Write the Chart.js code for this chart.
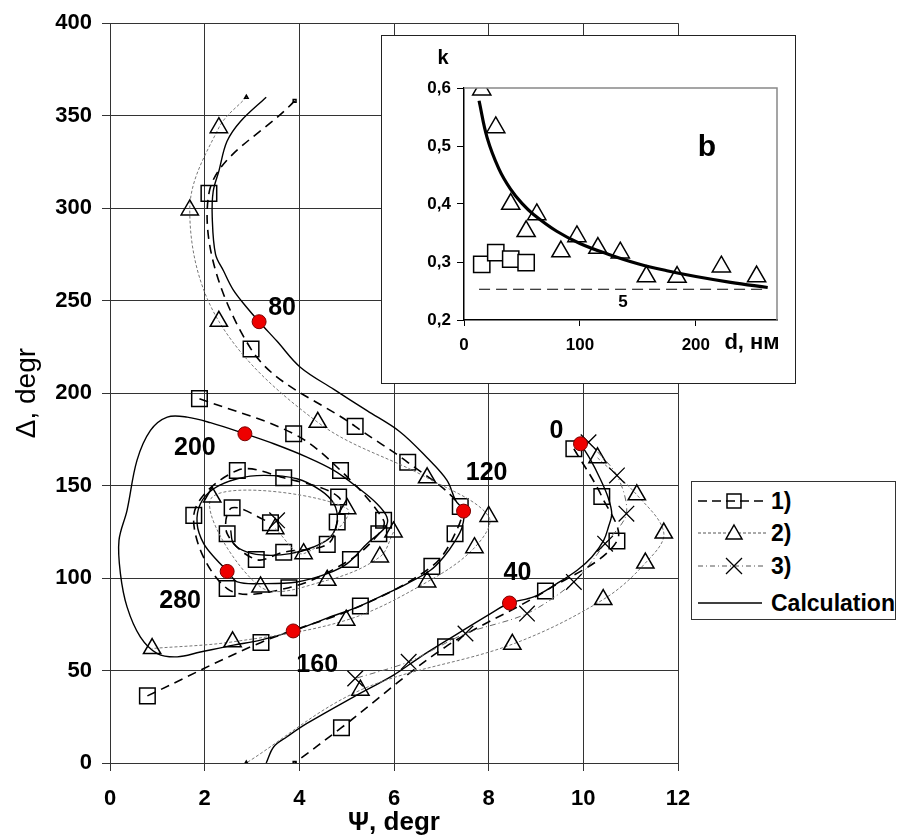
<!DOCTYPE html>
<html>
<head>
<meta charset="utf-8">
<script src="https://cdn.jsdelivr.net/npm/chart.js@4.4.0/dist/chart.umd.min.js"></script>
<style>
  body { margin: 0; background: #fff; }
  #wrap { position: relative; width: 899px; height: 838px; font-family: 'Liberation Sans', Arial, sans-serif; }
  #mainChart { position: absolute; left: 0; top: 0; }
  #insetBox { position: absolute; left: 381px; top: 35px; width: 413px; height: 347px; border: 1px solid #222; background: #fff; }
  #insetChart { position: absolute; left: 0; top: 0; }
  #legend { position: absolute; left: 691px; top: 481px; width: 203px; height: 137px; border: 1px solid #333; background: #fff; }
  .row { position: absolute; left: 0; width: 203px; height: 30px; }
  .row svg { position: absolute; left: 6px; top: 0; }
  .row span { position: absolute; left: 79px; top: 0; font-weight: bold; font-size: 23px; line-height: 30px; color: #000; }
</style>
</head>
<body>
<div id="wrap">
  <canvas id="mainChart" width="899" height="838"></canvas>
  <div id="insetBox"><canvas id="insetChart" width="413" height="347"></canvas></div>
  <div id="legend">
    <div class="row" style="top:4px">
      <svg width="72" height="30"><line x1="0" y1="15" x2="68" y2="15" stroke="#000" stroke-width="1.5" stroke-dasharray="9,5"/><rect x="29" y="8" width="14" height="14" fill="none" stroke="#000" stroke-width="1.5"/></svg>
      <span>1)</span>
    </div>
    <div class="row" style="top:36px">
      <svg width="72" height="30"><line x1="0" y1="15" x2="68" y2="15" stroke="#555" stroke-width="1" stroke-dasharray="3,2"/><polygon points="36,7 44,21 28,21" fill="#fff" stroke="#000" stroke-width="1.5"/></svg>
      <span>2)</span>
    </div>
    <div class="row" style="top:69px">
      <svg width="72" height="30"><line x1="0" y1="15" x2="68" y2="15" stroke="#555" stroke-width="1" stroke-dasharray="5,3,1,3"/><line x1="28" y1="7" x2="44" y2="23" stroke="#000" stroke-width="1.3"/><line x1="44" y1="7" x2="28" y2="23" stroke="#000" stroke-width="1.3"/></svg>
      <span>3)</span>
    </div>
    <div class="row" style="top:106px">
      <svg width="72" height="30"><line x1="0" y1="15" x2="64" y2="15" stroke="#000" stroke-width="1.5"/></svg>
      <span>Calculation</span>
    </div>
  </div>
</div>
<script>
// main plot: Psi (x) and Delta (y), degrees

// calculation, from d = 0 down to Delta = 0
const calcPsiA = [9.94, 10.15, 10.35, 10.52, 10.6, 10.53, 10.43, 10.18, 9.87, 9.44, 8.95, 8.44, 8.04, 7.12, 6.56, 5.99, 5.15, 4.16, 3.74, 3.46, 3.3];
const calcDeltaA = [172.6, 164, 154, 143.8, 134.8, 127.6, 120.4, 111.4, 104.2, 97, 89.8, 86.5, 80.8, 66.4, 57.4, 47.5, 35.8, 21.4, 14.2, 8.8, 0];
// calculation, continued from Delta = 360
const calcPsiB = [3.3, 2.76, 2.47, 2.30, 2.18, 2.16, 2.23, 2.4, 2.6, 2.9, 3.15, 3.53, 4.02, 4.73, 5.43, 6.13, 6.7, 7.12, 7.30, 7.47,
  7.44, 7.30, 7.05, 6.77, 6.28, 5.71, 5.2, 4.6, 3.87, 3.18, 2.61, 1.91, 1.42, 1.0, 0.64, 0.36, 0.22, 0.19, 0.36, 0.57,
  0.855, 1.21, 1.63, 2.12, 2.85, 3.46, 4.16, 4.73, 5.22, 5.64, 5.85, 5.82, 5.43, 5.01, 4.59, 3.95, 3.25, 2.69, 2.475, 2.26,
  1.98, 1.84, 1.91, 2.19, 2.69, 3.25, 3.95, 4.45, 4.73, 4.8, 4.66, 4.30, 3.81, 3.32, 2.9, 2.61, 2.55];
const calcDeltaB = [360, 347, 336, 320, 309, 295, 275, 266, 256, 246, 238.6, 228, 214, 202, 190.5, 179, 165, 152.8, 142, 136.2,
  127.6, 120.4, 111.4, 104.2, 97, 90, 84, 78.5, 71.4, 66.4, 63.7, 60, 57.4, 59.2, 68.2, 84.4, 102.4, 120.4, 136.6, 163.6,
  179.8, 187, 187, 184, 178, 172.6, 165.4, 158.2, 149.2, 140.2, 133, 127.6, 118.6, 107.8, 102.4, 97.9, 97, 97.9, 104, 109.6,
  118.6, 129.4, 140.2, 148.3, 153.7, 155.5, 153.7, 147.4, 140.2, 131.2, 122.2, 116.8, 113.2, 112.3, 114, 118.6, 125.8];

// marked thicknesses on the calculation
const dotLabels = ['0', '40', '80', '120', '160', '200', '280'];
const dotPsi = [9.94, 8.44, 3.15, 7.47, 3.87, 2.85, 2.475];
const dotDelta = [172.6, 86.5, 238.6, 136.2, 71.4, 178, 103.6];

// series 1) squares
const s1PsiA = [9.8, 10.39, 10.71, 9.2, 7.09, 4.89, 3.9];
const s1DeltaA = [169.9, 144.1, 120, 93, 62.8, 19.1, 0];
const s1PsiB = [3.9, 2.09, 2.98, 5.18, 6.29, 7.40, 7.29, 6.8, 5.29, 3.19, 0.79];
const s1DeltaB = [358, 308, 223.8, 182, 162.6, 138.7, 124, 106.3, 84.9, 65.2, 36.3];
const s1PsiC = [1.89, 3.88, 4.87, 5.78, 5.68, 5.08, 3.78, 2.475, 1.77, 2.69, 3.67, 4.83, 4.8, 4.59, 3.67, 3.09, 2.475, 2.58, 3.39];
const s1DeltaC = [197, 178, 158.2, 131.2, 124, 110, 94.8, 94.3, 133.9, 158.2, 154.2, 143.8, 130.3, 118.2, 114, 110, 124, 138, 129.9];

// series 2) triangles
const s2PsiA = [10.3, 11.13, 11.7, 11.31, 10.42, 8.5, 5.29, 2.88];
const s2DeltaA = [165, 145, 124.3, 108.1, 88.4, 64.2, 39.4, 0];
const s2PsiB = [2.88, 2.30, 1.685, 2.30, 4.39, 6.7, 8.0, 7.70, 6.7, 4.99, 2.59, 0.89];
const s2DeltaB = [360, 343.5, 299, 238.8, 184.2, 154.2, 133.3, 116.4, 97.9, 77.2, 65.5, 61.9];
const s2PsiC = [5.99, 5.7, 4.59, 3.18, 2.16, 5.01, 4.09, 3.49];
const s2DeltaC = [124.9, 111.4, 98.8, 95.2, 143.8, 137.5, 113.2, 126.7];

// series 3) crosses
const s3PsiA = [10.11, 10.71, 10.91, 10.46, 9.8, 8.81, 7.51, 6.31, 5.18];
const s3DeltaA = [173.4, 155.5, 134.8, 118.6, 97.9, 80.8, 70, 54.7, 45.7];
const s3PsiB = [3.53];
const s3DeltaB = [131.2];

// inset b: k against d, nm
const fitD = [13, 20, 30, 40, 50, 60, 80, 100, 125, 150, 175, 200, 230, 262];
const fitK = [0.578, 0.514, 0.461, 0.426, 0.401, 0.382, 0.353, 0.332, 0.313, 0.297, 0.285, 0.275, 0.265, 0.256];
const triD = [15.3, 27.4, 40.3, 53.6, 62.8, 83.6, 97.4, 115.5, 134.8, 157.3, 183.8, 222, 252.4];
const triK = [0.597, 0.532, 0.400, 0.353, 0.382, 0.318, 0.344, 0.324, 0.316, 0.275, 0.274, 0.292, 0.275];
const sqD = [15.3, 27.4, 40.3, 53.6];
const sqK = [0.296, 0.316, 0.305, 0.299];
const line5D = [13, 262];
const line5K = [0.253, 0.253];

const pts = (xs, ys) => xs.map((x, i) => ({ x: x, y: ys[i] }));

Chart.defaults.font.family = "'Liberation Sans', Arial, sans-serif";
Chart.defaults.color = '#000';

// points at the 0/360 wrap are drawn as tiny marks
function wrapRadius(smallIdx, r) {
  return (ctx) => (smallIdx.includes(ctx.dataIndex) ? 2 : r);
}

const s1Style = {
  showLine: true, tension: 0.35, borderColor: '#000', borderWidth: 1.6, borderDash: [9, 6],
  pointStyle: 'rect', pointBorderColor: '#000', pointBackgroundColor: 'rgba(0,0,0,0)', pointBorderWidth: 1.5
};
const s2Style = {
  showLine: true, tension: 0.35, borderColor: '#777', borderWidth: 1, borderDash: [3, 2],
  pointStyle: 'triangle', pointBorderColor: '#000', pointBackgroundColor: 'rgba(0,0,0,0)', pointBorderWidth: 1.5
};
const s3Style = {
  showLine: true, tension: 0.3, borderColor: '#666', borderWidth: 1, borderDash: [6, 3, 1, 3],
  pointStyle: 'crossRot', pointBorderColor: '#000', pointBorderWidth: 1.3
};
const calcStyle = { showLine: true, borderColor: '#000', borderWidth: 1.4, pointRadius: 0, tension: 0.35 };

const dotLabelPlugin = {
  id: 'dotLabels',
  afterDatasetsDraw(chart) {
    const { ctx, scales } = chart;
    const shift = [[-24, -13], [8, -30], [23, -14], [23, -38], [24, 34], [-50, 14], [-47, 30]];
    ctx.save();
    ctx.font = "bold 25px 'Liberation Sans', Arial, sans-serif";
    ctx.fillStyle = '#000';
    ctx.textAlign = 'center';
    ctx.textBaseline = 'middle';
    dotLabels.forEach((t, i) => {
      const x = scales.x.getPixelForValue(dotPsi[i]) + shift[i][0];
      const y = scales.y.getPixelForValue(dotDelta[i]) + shift[i][1];
      ctx.fillText(t, x, y);
    });
    ctx.restore();
  }
};

new Chart(document.getElementById('mainChart'), {
  type: 'scatter',
  data: {
    datasets: [
      { data: pts(dotPsi, dotDelta), pointStyle: 'circle', pointRadius: 7, pointBackgroundColor: '#ee0000', pointBorderColor: '#7a0000', pointBorderWidth: 1 },
      { data: pts(s3PsiA, s3DeltaA), ...s3Style, pointRadius: 11 },
      { data: pts(s3PsiB, s3DeltaB), ...s3Style, showLine: false, pointRadius: 11 },
      { data: pts(s2PsiA, s2DeltaA), ...s2Style, pointRadius: wrapRadius([7], 10) },
      { data: pts(s2PsiB, s2DeltaB), ...s2Style, pointRadius: wrapRadius([0], 10) },
      { data: pts(s2PsiC, s2DeltaC), ...s2Style, pointRadius: 10 },
      { data: pts(s1PsiA, s1DeltaA), ...s1Style, pointRadius: wrapRadius([6], 11) },
      { data: pts(s1PsiB, s1DeltaB), ...s1Style, pointRadius: wrapRadius([0], 11) },
      { data: pts(s1PsiC, s1DeltaC), ...s1Style, pointRadius: 11 },
      { data: pts(calcPsiA, calcDeltaA), ...calcStyle },
      { data: pts(calcPsiB, calcDeltaB), ...calcStyle }
    ]
  },
  options: {
    responsive: false,
    animation: false,
    devicePixelRatio: 1,
    layout: { padding: { top: 22, right: 221, left: 6, bottom: 0 } },
    plugins: { legend: { display: false }, tooltip: { enabled: false } },
    scales: {
      x: {
        min: 0, max: 12,
        afterFit: (s) => { s.height = 75; },
        ticks: { stepSize: 2, padding: 15, font: { size: 22, weight: 'bold' } },
        grid: { color: '#333', lineWidth: 1, tickLength: 8 },
        border: { color: '#333' },
        title: { display: true, text: 'Ψ, degr', font: { size: 26, weight: 'bold' }, padding: { top: 0, bottom: 0 } }
      },
      y: {
        min: 0, max: 400,
        afterFit: (s) => { s.width = 104; },
        ticks: { stepSize: 50, padding: 10, font: { size: 22, weight: 'bold' } },
        grid: { color: '#333', lineWidth: 1, tickLength: 8 },
        border: { color: '#333' },
        title: { display: true, text: 'Δ, degr', font: { size: 28 }, padding: { top: 4, bottom: 0 } }
      }
    }
  },
  plugins: [dotLabelPlugin]
});

const insetDecor = {
  id: 'insetDecor',
  afterDraw(chart) {
    const { ctx, chartArea: a } = chart;
    ctx.save();
    ctx.strokeStyle = '#888';
    ctx.lineWidth = 1.5;
    ctx.beginPath();
    ctx.moveTo(a.left, a.top);
    ctx.lineTo(a.right, a.top);
    ctx.lineTo(a.right, a.bottom);
    ctx.stroke();
    ctx.fillStyle = '#000';
    ctx.textAlign = 'center';
    ctx.textBaseline = 'middle';
    ctx.font = "bold 20px 'Liberation Sans', Arial, sans-serif";
    ctx.fillText('k', 61, 22);
    ctx.font = "bold 30px 'Liberation Sans', Arial, sans-serif";
    ctx.fillText('b', 325, 112);
    ctx.font = "bold 22px 'Liberation Sans', Arial, sans-serif";
    ctx.fillText('d, нм', 370, 307);
    ctx.font = "bold 17px 'Liberation Sans', Arial, sans-serif";
    ctx.fillText('5', 241, 266);
    ctx.restore();
  }
};

new Chart(document.getElementById('insetChart'), {
  type: 'scatter',
  data: {
    datasets: [
      { data: pts(fitD, fitK), showLine: true, borderColor: '#000', borderWidth: 3.2, pointRadius: 0, tension: 0.4 },
      { data: pts(triD, triK), pointStyle: 'triangle', pointRadius: 10.5, pointBorderColor: '#000', pointBackgroundColor: 'rgba(0,0,0,0)', pointBorderWidth: 1.5 },
      { data: pts(sqD, sqK), pointStyle: 'rect', pointRadius: 11.5, pointBorderColor: '#000', pointBackgroundColor: '#fff', pointBorderWidth: 1.5 },
      { data: pts(line5D, line5K), showLine: true, borderColor: '#000', borderWidth: 1, borderDash: [11, 6], pointRadius: 0 }
    ]
  },
  options: {
    responsive: false,
    animation: false,
    devicePixelRatio: 1,
    layout: { padding: { top: 52, right: 18, left: 0, bottom: 0 } },
    plugins: { legend: { display: false }, tooltip: { enabled: false } },
    scales: {
      x: {
        min: 0, max: 270,
        afterFit: (s) => { s.height = 63; },
        afterBuildTicks: (s) => { s.ticks = s.ticks.filter(t => t.value % 100 === 0); },
        ticks: { stepSize: 100, padding: 9, font: { size: 17, weight: 'bold' } },
        grid: { drawOnChartArea: false, tickLength: 6, color: '#000' },
        border: { color: '#000', width: 1.5 }
      },
      y: {
        min: 0.2, max: 0.6,
        afterFit: (s) => { s.width = 82; },
        ticks: { stepSize: 0.1, padding: 6, font: { size: 17, weight: 'bold' }, callback: (v) => v.toFixed(1).replace('.', ',') },
        grid: { drawOnChartArea: false, tickLength: 7, color: '#000' },
        border: { color: '#000', width: 1.5 }
      }
    }
  },
  plugins: [insetDecor]
});
</script>
</body>
</html>
